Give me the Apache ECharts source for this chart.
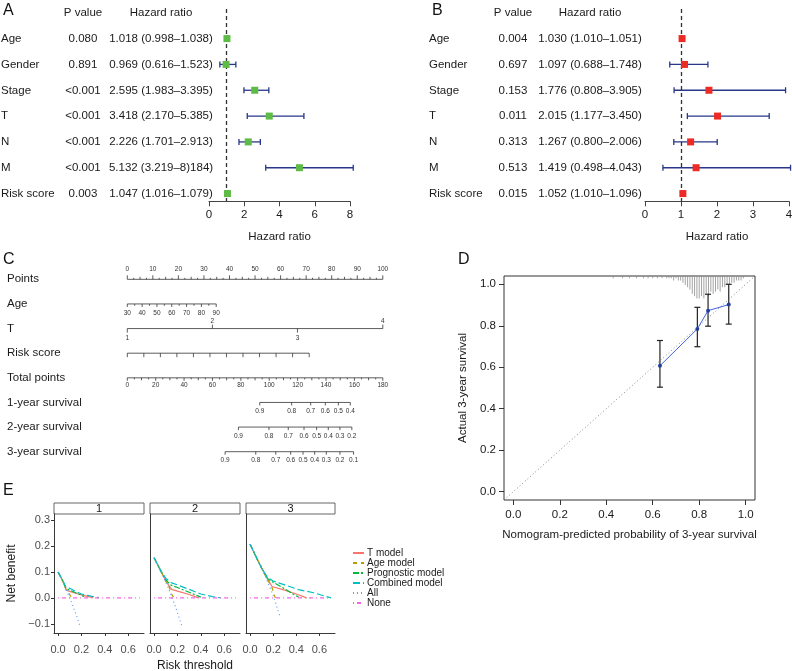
<!DOCTYPE html>
<html><head><meta charset="utf-8">
<script src="https://cdn.jsdelivr.net/npm/echarts@6/dist/echarts.min.js"></script>
<style>html,body{margin:0;padding:0;background:#fff}#c{width:792px;height:671px}</style>
</head><body><div id="c"></div>
<script>
const FONT = '"Liberation Sans", Arial, Helvetica, sans-serif';

// ---------- Panel A / B: forest plots ----------
const varNames = ['Age', 'Gender', 'Stage', 'T', 'N', 'M', 'Risk score'];
const pA = ['0.080', '0.891', '<0.001', '<0.001', '<0.001', '<0.001', '0.003'];
const hrA = [1.018, 0.969, 2.595, 3.418, 2.226, 5.132, 1.047];
const loA = [0.998, 0.616, 1.983, 2.170, 1.701, 3.219, 1.016];
const hiA = [1.038, 1.523, 3.395, 5.385, 2.913, 8.184, 1.079];
const hrTextA = ['1.018 (0.998–1.038)', '0.969 (0.616–1.523)', '2.595 (1.983–3.395)', '3.418 (2.170–5.385)', '2.226 (1.701–2.913)', '5.132 (3.219–8)184)', '1.047 (1.016–1.079)'];

const pB = ['0.004', '0.697', '0.153', '0.011', '0.313', '0.513', '0.015'];
const hrB = [1.030, 1.097, 1.776, 2.015, 1.267, 1.419, 1.052];
const loB = [1.010, 0.688, 0.808, 1.177, 0.800, 0.498, 1.010];
const hiB = [1.051, 1.748, 3.905, 3.450, 2.006, 4.043, 1.096];
const hrTextB = ['1.030 (1.010–1.051)', '1.097 (0.688–1.748)', '1.776 (0.808–3.905)', '2.015 (1.177–3.450)', '1.267 (0.800–2.006)', '1.419 (0.498–4.043)', '1.052 (1.010–1.096)'];

const forestTicksA = [0, 2, 4, 6, 8];
const forestTicksB = [0, 1, 2, 3, 4];

// ---------- Panel C: nomogram ----------
const nomoRows = ['Points', 'Age', 'T', 'Risk score', 'Total points', '1-year survival', '2-year survival', '3-year survival'];
const pointsLabels = [0, 10, 20, 30, 40, 50, 60, 70, 80, 90, 100];
const ageLabels = [30, 40, 50, 60, 70, 80, 90];
const agePoints = [0, 5.8, 11.6, 17.4, 23.2, 29.0, 34.8];
const tLabels = ['1', '2', '3', '4'];
const tPoints = [0, 33.3, 66.6, 100];
const riskPoints = [0, 6.47, 12.94, 19.41, 25.88, 32.35, 38.82, 45.29, 51.76, 58.23, 64.7, 71.2];
const totalLabels = [0, 20, 40, 60, 80, 100, 120, 140, 160, 180];
const surv1Labels = ['0.9', '0.8', '0.7', '0.6', '0.5', '0.4'];
const surv1Total = [93.3, 115.8, 129.2, 139.5, 148.7, 157.1];
const surv2Labels = ['0.9', '0.8', '0.7', '0.6', '0.5', '0.4', '0.3', '0.2'];
const surv2Total = [78.3, 99.8, 113.4, 124.5, 133.4, 141.6, 149.8, 158.2];
const surv3Labels = ['0.9', '0.8', '0.7', '0.6', '0.5', '0.4', '0.3', '0.2', '0.1'];
const surv3Total = [68.9, 90.5, 104.6, 115.1, 123.8, 132.0, 140.2, 149.8, 159.4];

// ---------- Panel D: calibration ----------
const calPred = [0.631, 0.792, 0.838, 0.927];
const calObs = [0.607, 0.785, 0.873, 0.902];
const calLo = [0.504, 0.699, 0.798, 0.808];
const calHi = [0.729, 0.889, 0.952, 1.0];
const idealLine = [[-0.04, -0.04], [1.04, 1.04]];
const calTicks = [0, 0.2, 0.4, 0.6, 0.8, 1.0];
const rugX = [0.43, 0.47, 0.50, 0.53, 0.56, 0.58, 0.60, 0.62, 0.64, 0.66, 0.67, 0.68, 0.69, 0.70, 0.71, 0.72, 0.73, 0.74, 0.75, 0.76, 0.77, 0.78, 0.79, 0.80, 0.81, 0.82, 0.83, 0.84, 0.85, 0.86, 0.87, 0.88, 0.89, 0.90, 0.91, 0.92, 0.93, 0.94, 0.95, 0.96, 0.97, 0.98, 0.99];
const rugN = [1, 1, 1, 1, 1, 1, 1, 1, 1, 1, 1, 1, 2, 1, 2, 2, 3, 4, 5, 6, 8, 9, 10, 10, 9, 10, 8, 9, 7, 8, 7, 6, 7, 5, 5, 4, 4, 3, 3, 2, 2, 2, 1];

// ---------- Panel E: decision curves (3 facets each) ----------
const facetTitles = ['1', '2', '3'];
const tModel = [
  [[0, 0.1], [0.04, 0.065], [0.07, 0.03], [0.1, 0.025], [0.15, 0.018], [0.2, 0.012], [0.25, 0.006], [0.3, 0.001]],
  [[0, 0.155], [0.05, 0.11], [0.1, 0.065], [0.15, 0.033], [0.2, 0.026], [0.3, 0.013], [0.38, 0]],
  [[0, 0.207], [0.05, 0.16], [0.1, 0.115], [0.15, 0.075], [0.19, 0.044], [0.3, 0.03], [0.4, 0.015], [0.49, 0]]
];
const ageModel = [
  [[0, 0.1], [0.04, 0.065], [0.07, 0.03], [0.09, 0.02], [0.11, 0.005], [0.12, 0]],
  [[0, 0.155], [0.05, 0.11], [0.1, 0.065], [0.13, 0.04], [0.15, 0.015], [0.17, 0]],
  [[0, 0.207], [0.05, 0.16], [0.1, 0.115], [0.15, 0.07], [0.19, 0.04], [0.21, 0.01], [0.22, 0]]
];
const progModel = [
  [[0, 0.1], [0.04, 0.065], [0.07, 0.035], [0.1, 0.03], [0.15, 0.02], [0.2, 0.01], [0.22, 0.005]],
  [[0, 0.155], [0.05, 0.11], [0.1, 0.07], [0.14, 0.05], [0.2, 0.04], [0.3, 0.022], [0.35, 0.012], [0.4, 0.003]],
  [[0, 0.207], [0.05, 0.16], [0.1, 0.115], [0.15, 0.075], [0.2, 0.06], [0.3, 0.035], [0.37, 0.015], [0.42, 0.003]]
];
const combModel = [
  [[0, 0.1], [0.04, 0.067], [0.07, 0.04], [0.1, 0.037], [0.15, 0.025], [0.2, 0.015], [0.25, 0.01], [0.3, 0.005], [0.35, 0.001]],
  [[0, 0.155], [0.05, 0.11], [0.1, 0.075], [0.15, 0.058], [0.2, 0.05], [0.3, 0.033], [0.4, 0.015], [0.5, 0.005], [0.57, 0]],
  [[0, 0.207], [0.05, 0.16], [0.1, 0.115], [0.15, 0.08], [0.2, 0.065], [0.3, 0.05], [0.42, 0.032], [0.55, 0.02], [0.7, 0]]
];
const allModel = [
  [[0, 0.1], [0.05, 0.053], [0.1, 0.0], [0.15, -0.059], [0.19, -0.112]],
  [[0, 0.155], [0.06, 0.1], [0.12, 0.04], [0.18, -0.03], [0.237, -0.108]],
  [[0, 0.207], [0.1, 0.119], [0.2, 0.009], [0.26, -0.072]]
];
const noneModel = [
  [[0, 0], [0.7, 0]],
  [[0, 0], [0.7, 0]],
  [[0, 0], [0.7, 0]]
];
const dcaXTicks = [0, 0.2, 0.4, 0.6];
const dcaYTicks = [-0.1, 0, 0.1, 0.2, 0.3];

// =============================================================
const chart = echarts.init(document.getElementById('c'), null, { renderer: 'canvas' });
const TXT = '#1a1a1a';
const AX = '#444';

function tableAxes(gridIndex, gridLeft, labelX, pCenter, hrCenter, pVals, hrTexts) {
  const cats = ['', ...varNames];
  const base = {
    type: 'category', gridIndex, data: cats, inverse: true, position: 'left',
    axisLine: { show: false }, axisTick: { show: false }, splitLine: { show: false }
  };
  return [
    Object.assign({}, base, { axisLabel: { interval: 0, align: 'left', margin: gridLeft - labelX, fontSize: 11.5, color: TXT, fontFamily: FONT, formatter: (v, i) => (i === 0 ? '' : varNames[i - 1]) } }),
    Object.assign({}, base, { axisLabel: { interval: 0, align: 'center', margin: gridLeft - pCenter, fontSize: 11.5, color: TXT, fontFamily: FONT, formatter: (v, i) => (i === 0 ? 'P value' : pVals[i - 1]) } }),
    Object.assign({}, base, { axisLabel: { interval: 0, align: 'center', margin: gridLeft - hrCenter, fontSize: 11.5, color: TXT, fontFamily: FONT, formatter: (v, i) => (i === 0 ? 'Hazard ratio' : hrTexts[i - 1]) } })
  ];
}

function forestX(gridIndex, ticks) {
  return {
    type: 'value', gridIndex, min: ticks[0], max: ticks[ticks.length - 1], interval: ticks[1] - ticks[0],
    axisLine: { show: true, onZero: false, lineStyle: { color: AX, width: 1 } },
    axisTick: { show: true, length: 5, lineStyle: { color: AX, width: 1 } },
    axisLabel: { fontSize: 11.5, color: TXT, margin: 8, fontFamily: FONT },
    splitLine: { show: false },
    name: 'Hazard ratio', nameLocation: 'middle', nameGap: 30,
    nameTextStyle: { fontSize: 11.5, color: TXT, fontFamily: FONT }
  };
}
function forestY(gridIndex) {
  return { type: 'value', gridIndex, min: -0.15, max: 7.3, inverse: true, show: false, axisLine: { onZero: false } };
}
function forestSeries(xi, yi, hr, lo, hi, color) {
  const rows = hr.map((h, i) => [h, lo[i], hi[i], i + 1]);
  return [
    {
      type: 'custom', xAxisIndex: xi, yAxisIndex: yi, clip: false, z: 3,
      encode: { x: [0, 1, 2], y: 3 },
      data: rows,
      renderItem: (params, api) => {
        const a = api.coord([api.value(1), api.value(3)]);
        const b = api.coord([api.value(2), api.value(3)]);
        const st = { stroke: '#27378a', lineWidth: 1.3 };
        return {
          type: 'group', children: [
            { type: 'line', shape: { x1: a[0], y1: a[1], x2: b[0], y2: b[1] }, style: st },
            { type: 'line', shape: { x1: a[0], y1: a[1] - 3, x2: a[0], y2: a[1] + 3 }, style: st },
            { type: 'line', shape: { x1: b[0], y1: b[1] - 3, x2: b[0], y2: b[1] + 3 }, style: st }
          ]
        };
      }
    },
    {
      type: 'scatter', xAxisIndex: xi, yAxisIndex: yi, z: 5, symbol: 'rect', symbolSize: 7,
      itemStyle: { color, opacity: 1 },
      data: rows.map(r => [r[0], r[3]]),
      markLine: {
        silent: true, symbol: 'none', label: { show: false },
        lineStyle: { type: [4, 3], color: '#333', width: 1.3 },
        data: [{ xAxis: 1 }]
      }
    }
  ];
}

// Nomogram specs
function mkTicks(vals, labels, len, lblOffset, minor) {
  const arr = vals.map((v, i) => ({ v, len, label: labels ? String(labels[i]) : null, lo: lblOffset }));
  if (minor) minor.forEach(m => arr.push({ v: m.v, len: m.len, label: null }));
  return arr;
}
const pointsMinor = [];
for (let v = 0; v < 100; v += 2.5) { if (v % 10 !== 0) pointsMinor.push({ v, len: (v % 5 === 0) ? -2.5 : -1.5 }); }
const ageMinor = [];
for (let i = 0; i < agePoints.length - 1; i++) ageMinor.push({ v: (agePoints[i] + agePoints[i + 1]) / 2, len: 1.8 });
const totalMinor = [];
for (let v = 10; v < 180; v += 20) totalMinor.push({ v, len: 2.5 });
for (let v = 5; v < 180; v += 10) totalMinor.push({ v, len: 1.6 });

const nomoTop = [
  { row: 0, ticks: mkTicks(pointsLabels, pointsLabels, -4, -10.5, pointsMinor) },
  { row: 1, ticks: mkTicks(agePoints, ageLabels, 3, 9.4, ageMinor) },
  { row: 2, ticks: tPoints.map((v, i) => ({ v, len: i % 2 ? -4 : 4, label: tLabels[i], lo: i % 2 ? -7.8 : 9.2 })) },
  { row: 3, ticks: mkTicks(riskPoints, null, 4, 0) }
];
const nomoBottom = [
  { row: 4, ticks: mkTicks(totalLabels, totalLabels, 3, 7.2, totalMinor) },
  { row: 5, ticks: mkTicks(surv1Total, surv1Labels, 3, 9) },
  { row: 6, ticks: mkTicks(surv2Total, surv2Labels, 3, 9) },
  { row: 7, ticks: mkTicks(surv3Total, surv3Labels, 3, 9) }
];
function nomoRender(specs) {
  return function (params, api) {
    const s = specs[params.dataIndex];
    const vs = s.ticks.map(t => t.v);
    const p0 = api.coord([Math.min(...vs), s.row]);
    const p1 = api.coord([Math.max(...vs), s.row]);
    const y = p0[1];
    const st = { stroke: '#333', lineWidth: 0.8 };
    const ch = [{ type: 'line', shape: { x1: p0[0], y1: y, x2: p1[0], y2: y }, style: st }];
    s.ticks.forEach(t => {
      const x = api.coord([t.v, s.row])[0];
      ch.push({ type: 'line', shape: { x1: x, y1: y, x2: x, y2: y + t.len }, style: st });
      if (t.label != null) {
        ch.push({
          type: 'text', x: x, y: y + t.lo,
          style: { text: t.label, align: 'center', verticalAlign: 'middle', textAlign: 'center', textVerticalAlign: 'middle', font: '6.5px ' + FONT, fill: '#333' }
        });
      }
    });
    return { type: 'group', children: ch };
  };
}

// Panel E axes
const facetLefts = [54, 150, 246];
const facetWidth = 90;
const eTop = 514, eHeight = 119;
const OB = { outerBoundsMode: 'none', containLabel: false };

const grids = [
  { left: 220, top: 0, width: 10, height: 206.7 },          // 0 table A
  { left: 209, top: 8.9, width: 141, height: 192.4 },       // 1 forest A
  { left: 640, top: 0, width: 4, height: 206.7 },           // 2 table B
  { left: 645, top: 8.9, width: 144, height: 192.4 },       // 3 forest B
  { left: 127.3, top: 267, width: 255.5, height: 197 },     // 4 nomogram
  { left: 504, top: 276, width: 251, height: 224, show: true, borderColor: '#333', borderWidth: 1, backgroundColor: 'transparent' }, // 5 calibration
  { left: facetLefts[0], top: eTop, width: facetWidth, height: eHeight },
  { left: facetLefts[1], top: eTop, width: facetWidth, height: eHeight },
  { left: facetLefts[2], top: eTop, width: facetWidth - 1, height: eHeight }
].map(g => Object.assign({}, OB, g));

const xAxes = [
  { type: 'value', gridIndex: 0, show: false, min: 0, max: 1 },
  forestX(1, forestTicksA),
  { type: 'value', gridIndex: 2, show: false, min: 0, max: 1 },
  forestX(3, forestTicksB),
  { type: 'value', gridIndex: 4, show: false, min: 0, max: 100 },
  { type: 'value', gridIndex: 4, show: false, min: 0, max: 180 },
  {
    type: 'value', gridIndex: 5, min: -0.04, max: 1.04,
    axisLine: { show: false, onZero: false },
    axisTick: { show: true, length: 5, customValues: calTicks, lineStyle: { color: '#333' } },
    axisLabel: { customValues: calTicks, formatter: v => v.toFixed(1), fontSize: 11.5, color: TXT, margin: 9, fontFamily: FONT },
    splitLine: { show: false },
    name: 'Nomogram-predicted probability of 3-year survival', nameLocation: 'middle', nameGap: 29,
    nameTextStyle: { fontSize: 11.5, color: TXT, fontFamily: FONT }
  }
];
facetLefts.forEach((l, f) => {
  xAxes.push({
    type: 'value', gridIndex: 6 + f, min: -0.035, max: 0.735,
    axisLine: { show: true, onZero: false, lineStyle: { color: '#222', width: 0.9 } },
    axisTick: { show: true, length: 3, customValues: dcaXTicks, lineStyle: { color: '#333' } },
    axisLabel: { customValues: dcaXTicks, formatter: v => v.toFixed(1), fontSize: 11, color: '#4d4d4d', margin: 11, fontFamily: FONT, hideOverlap: false },
    splitLine: { show: false },
    name: f === 1 ? 'Risk threshold' : '', nameLocation: 'middle', nameGap: 27,
    nameTextStyle: { fontSize: 12, color: TXT, fontFamily: FONT }
  });
});

const yAxes = [
  ...tableAxes(0, 220, 1, 83, 161, pA, hrTextA),             // 0,1,2
  forestY(1),                                                 // 3
  ...tableAxes(2, 640, 429, 513, 590, pB, hrTextB),           // 4,5,6
  forestY(3),                                                 // 7
  {
    type: 'category', gridIndex: 4, data: nomoRows, inverse: true,
    axisLine: { show: false }, axisTick: { show: false },
    axisLabel: { interval: 0, align: 'left', margin: 120.3, fontSize: 11.5, color: TXT, fontFamily: FONT }
  },                                                          // 8
  {
    type: 'value', gridIndex: 5, min: -0.04, max: 1.04,
    axisLine: { show: false, onZero: false },
    axisTick: { show: true, length: 5, customValues: calTicks, lineStyle: { color: '#333' } },
    axisLabel: { customValues: calTicks, formatter: v => v.toFixed(1), fontSize: 11.5, color: TXT, margin: 8, fontFamily: FONT },
    splitLine: { show: false },
    name: 'Actual 3-year survival', nameLocation: 'middle', nameGap: 35, nameRotate: 90,
    nameTextStyle: { fontSize: 11.5, color: TXT, fontFamily: FONT }
  },                                                          // 9
  { type: 'value', gridIndex: 5, min: 0, max: 100, inverse: true, show: false, axisLine: { onZero: false } } // 10 rug
];
facetLefts.forEach((l, f) => {
  yAxes.push({
    type: 'value', gridIndex: 6 + f, min: -0.135, max: 0.323,
    axisLine: { show: true, onZero: false, lineStyle: { color: '#222', width: 0.9 } },
    axisTick: { show: f === 0, length: 3, customValues: dcaYTicks, lineStyle: { color: '#333' } },
    axisLabel: { show: f === 0, customValues: dcaYTicks, formatter: v => (v < 0 ? '−' + Math.abs(v).toFixed(1) : v.toFixed(1)), fontSize: 11, color: '#4d4d4d', margin: 4, fontFamily: FONT },
    splitLine: { show: false },
    name: f === 0 ? 'Net benefit' : '', nameLocation: 'middle', nameGap: 36, nameRotate: 90,
    nameTextStyle: { fontSize: 12, color: TXT, fontFamily: FONT }
  });
});

const series = [
  ...forestSeries(1, 3, hrA, loA, hiA, '#5dbb46'),
  ...forestSeries(3, 7, hrB, loB, hiB, '#ee2a24'),
  {
    type: 'custom', xAxisIndex: 4, yAxisIndex: 8, clip: false,
    data: nomoTop.map(s => [0, s.row]), encode: { x: 0, y: 1 },
    renderItem: nomoRender(nomoTop)
  },
  {
    type: 'custom', xAxisIndex: 5, yAxisIndex: 8, clip: false,
    data: nomoBottom.map(s => [0, s.row]), encode: { x: 0, y: 1 },
    renderItem: nomoRender(nomoBottom)
  },
  // calibration
  {
    type: 'line', xAxisIndex: 6, yAxisIndex: 9, data: idealLine, symbol: 'none', silent: true,
    lineStyle: { color: '#666', width: 0.8, type: [1, 2.5] }
  },
  {
    type: 'custom', xAxisIndex: 6, yAxisIndex: 10, clip: true,
    data: rugX.map((x, i) => [x, rugN[i]]), encode: { x: 0, y: 1 },
    renderItem: (params, api) => {
      const a = api.coord([api.value(0), 0]);
      const b = api.coord([api.value(0), api.value(1)]);
      return { type: 'line', shape: { x1: a[0], y1: a[1], x2: b[0], y2: b[1] }, style: { stroke: '#8c8c8c', lineWidth: 0.8 } };
    }
  },
  {
    type: 'custom', xAxisIndex: 6, yAxisIndex: 9, z: 3,
    data: calPred.map((p, i) => [p, calLo[i], calHi[i]]), encode: { x: 0, y: [1, 2] },
    renderItem: (params, api) => {
      const a = api.coord([api.value(0), api.value(1)]);
      const b = api.coord([api.value(0), api.value(2)]);
      const st = { stroke: '#222', lineWidth: 1.2 };
      return {
        type: 'group', children: [
          { type: 'line', shape: { x1: a[0], y1: a[1], x2: b[0], y2: b[1] }, style: st },
          { type: 'line', shape: { x1: a[0] - 3, y1: a[1], x2: a[0] + 3, y2: a[1] }, style: st },
          { type: 'line', shape: { x1: b[0] - 3, y1: b[1], x2: b[0] + 3, y2: b[1] }, style: st }
        ]
      };
    }
  },
  {
    type: 'line', xAxisIndex: 6, yAxisIndex: 9, z: 4, data: calPred.map((p, i) => [p, calObs[i]]),
    symbol: 'circle', symbolSize: 4, showSymbol: true,
    lineStyle: { color: '#4466dd', width: 1 }, itemStyle: { color: '#22409a' }
  }
];

const models = [
  { name: 'T model', color: '#F8766D', type: 'solid', data: tModel },
  { name: 'Age model', color: '#B79F00', type: [4, 4], data: ageModel },
  { name: 'Prognostic model', color: '#00BA38', type: [6, 2, 2, 2], data: progModel },
  { name: 'Combined model', color: '#00BFC4', type: [7, 3], data: combModel },
  { name: 'All', color: '#619CFF', type: [1, 3], data: allModel },
  { name: 'None', color: '#F564E3', type: [1, 3, 4, 3], data: noneModel }
];
facetLefts.forEach((l, f) => {
  models.forEach(m => {
    series.push({
      type: 'line', name: m.name, xAxisIndex: 7 + f, yAxisIndex: 11 + f, data: m.data[f],
      symbol: 'none', showSymbol: false, clip: true,
      lineStyle: { color: m.color, width: 1.2, type: m.type }, itemStyle: { color: m.color }
    });
  });
});

const graphics = [
  { type: 'text', left: 3, top: 3, style: { text: 'A', font: '16px ' + FONT, fill: '#111' } },
  { type: 'text', left: 432, top: 3, style: { text: 'B', font: '16px ' + FONT, fill: '#111' } },
  { type: 'text', left: 3, top: 252, style: { text: 'C', font: '16px ' + FONT, fill: '#111' } },
  { type: 'text', left: 458, top: 252, style: { text: 'D', font: '16px ' + FONT, fill: '#111' } },
  { type: 'text', left: 3, top: 483, style: { text: 'E', font: '16px ' + FONT, fill: '#111' } }
];
facetLefts.forEach((l, f) => {
  const w = f === 2 ? facetWidth - 1 : facetWidth;
  graphics.push({ type: 'rect', shape: { x: l, y: 503, width: w, height: 11 }, style: { fill: '#fff', stroke: '#555', lineWidth: 0.9 } });
  graphics.push({ type: 'text', x: l + w / 2, y: 508.5, style: { text: facetTitles[f], font: '11px ' + FONT, fill: TXT, align: 'center', verticalAlign: 'middle', textAlign: 'center', textVerticalAlign: 'middle' } });
});

chart.setOption({
  animation: false,
  backgroundColor: '#fff',
  textStyle: { fontFamily: FONT },
  grid: grids,
  xAxis: xAxes,
  yAxis: yAxes,
  graphic: graphics,
  legend: {
    data: models.map(m => m.name), orient: 'vertical', left: 347, top: 543,
    itemWidth: 11, itemHeight: 6, itemGap: 0,
    itemStyle: { opacity: 0 },
    textStyle: { fontSize: 10, color: TXT, fontFamily: FONT, lineHeight: 9.7, padding: [0, 0, 0, -2] },
    selectedMode: false
  },
  series
});
</script></body></html>
